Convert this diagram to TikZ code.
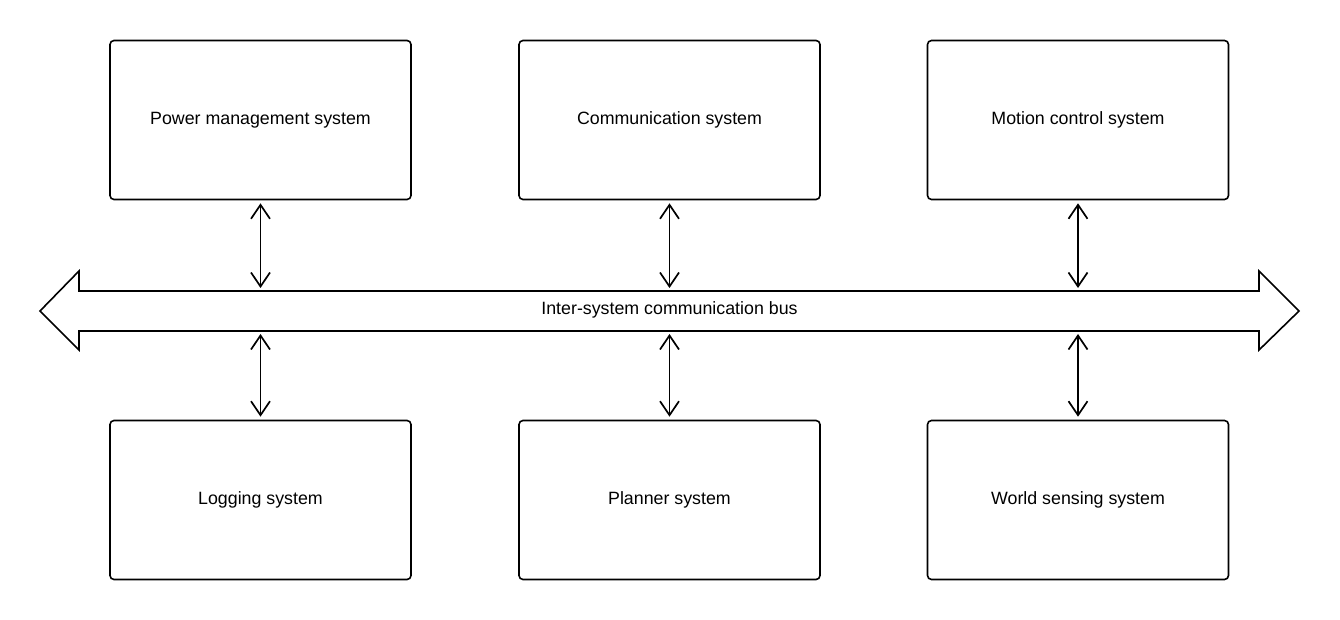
\documentclass[tikz,border=0pt]{standalone}
\usepackage{fontspec}
\setmainfont{Liberation Sans}
\usetikzlibrary{arrows.meta}
\begin{document}
\begin{tikzpicture}[x=1pt,y=-1pt,
  sysbox/.style={draw,black,line width=1.6pt,rounded corners=4pt,minimum width=301pt,minimum height=159pt,inner sep=0pt,font=\fontsize{17.8}{21}\selectfont},
  link/.style={black,line width=1.7pt,{Straight Barb[length=14pt,width=19pt]}-{Straight Barb[length=14pt,width=19pt]},shorten <=3pt,shorten >=3pt}]
\useasboundingbox (0,0) rectangle (1340,620);

% subsystems
\node[sysbox] (power) at (260.5,120) {Power management system};
\node[sysbox] (comm) at (669.5,120) {Communication system};
\node[sysbox] (motion) at (1078,120) {Motion control system};
\node[sysbox] (logging) at (260.5,500) {Logging system};
\node[sysbox] (planner) at (669.5,500) {Planner system};
\node[sysbox] (sensing) at (1078,500) {World sensing system};

% bus
\draw[black,line width=1.6pt,line join=miter] (40,311) -- (79,271) -- (79,291) -- (1259,291) -- (1259,271) -- (1299,311)
  -- (1259,350) -- (1259,331) -- (79,331) -- (79,350) -- cycle;
\coordinate (bustop) at (0,291);
\coordinate (busbot) at (0,331);
\node[font=\fontsize{17.8}{21}\selectfont] (bus) at (669.5,309.5) {Inter-system communication bus};

\draw[link] (power.south) -- (power.south |- bustop);
\draw[link] (comm.south) -- (comm.south |- bustop);
\draw[link] (motion.south) -- (motion.south |- bustop);
\draw[link] (logging.north |- busbot) -- (logging.north);
\draw[link] (planner.north |- busbot) -- (planner.north);
\draw[link] (sensing.north |- busbot) -- (sensing.north);

\end{tikzpicture}
\end{document}
